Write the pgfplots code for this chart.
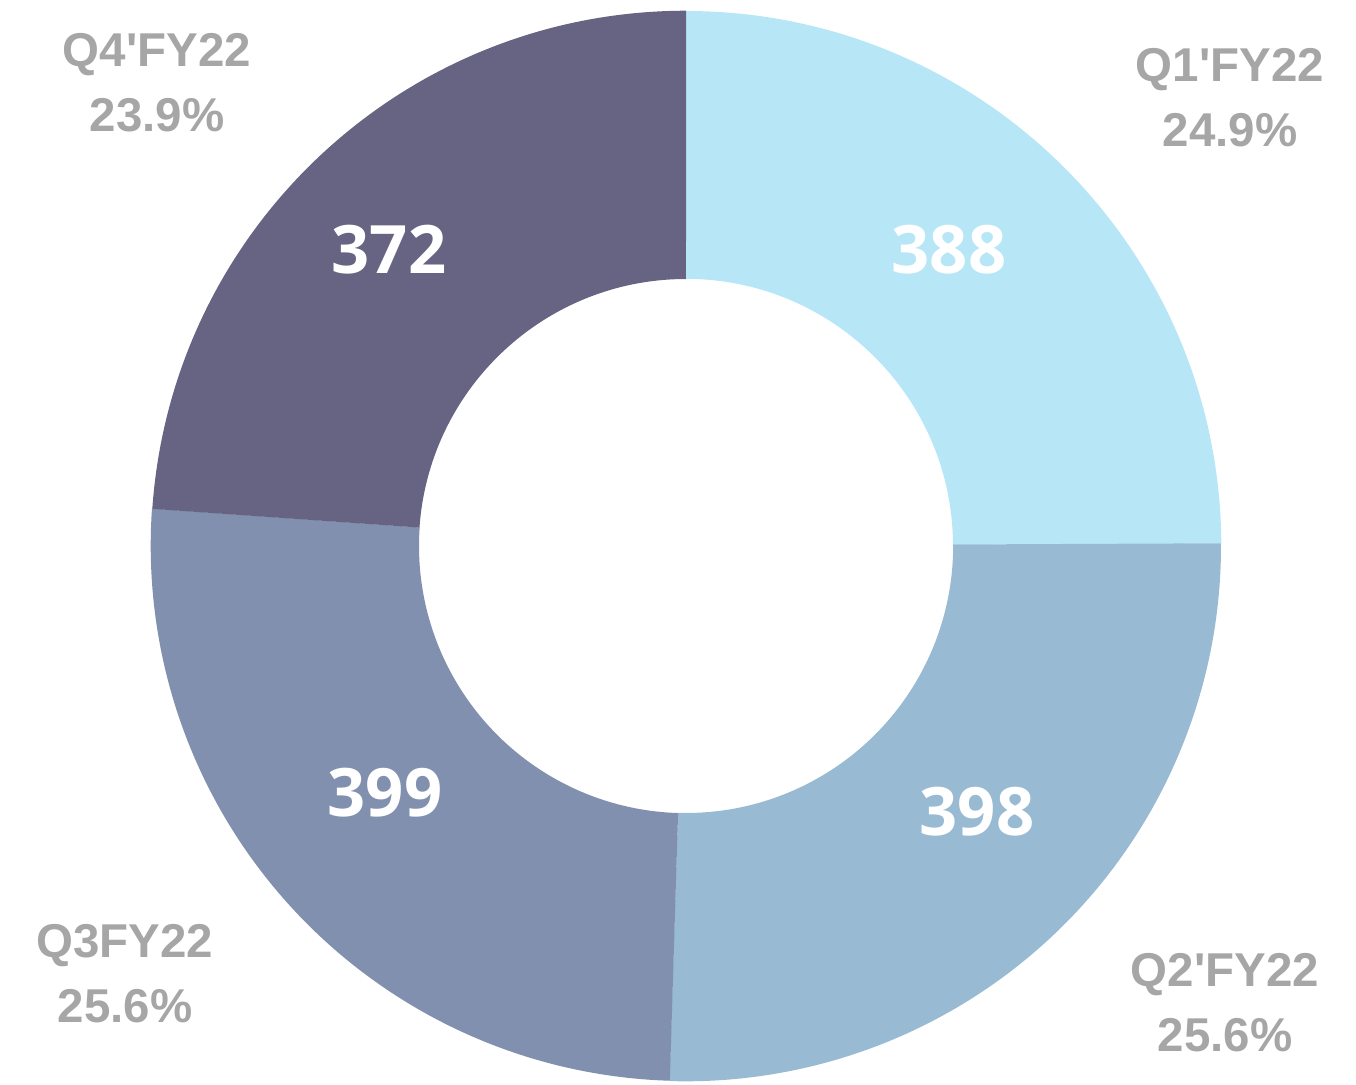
\documentclass[border=0pt]{standalone}
\usepackage{pgfplots}
\usepackage{pgfplotstable}
\pgfplotsset{compat=1.18}
\usepackage{fontspec}
\setmainfont{Liberation Sans}
\newfontfamily\valfont{Open Sans}
\definecolor{cA}{HTML}{B7E6F6}
\definecolor{cB}{HTML}{98BAD3}
\definecolor{cC}{HTML}{8090AE}
\definecolor{cD}{HTML}{666482}
\definecolor{lab}{HTML}{A6A6A6}
\pgfplotstableread{
label value
Q1 388
Q2 398
Q3 399
Q4 372
}\datatable
\pgfplotstablegetelem{0}{value}\of\datatable \let\va\pgfplotsretval
\pgfplotstablegetelem{1}{value}\of\datatable \let\vb\pgfplotsretval
\pgfplotstablegetelem{2}{value}\of\datatable \let\vc\pgfplotsretval
\pgfplotstablegetelem{3}{value}\of\datatable \let\vd\pgfplotsretval
\pgfmathsetmacro\tot{\va+\vb+\vc+\vd}
\pgfmathsetmacro\aA{90}
\pgfmathsetmacro\aB{\aA-360*(\va/\tot)}
\pgfmathsetmacro\aC{\aB-360*(\vb/\tot)}
\pgfmathsetmacro\aD{\aC-360*(\vc/\tot)}
\pgfmathsetmacro\aE{\aD-360*(\vd/\tot)}
\def\cx{686}\def\cy{535}
\newcommand\sector[3]{%
  \fill[#3] (axis cs:{\cx+535*cos(#1)},{\cy+535*sin(#1)})
    arc[start angle=#1, end angle=#2, radius=5.35cm]
    -- (axis cs:{\cx+267*cos(#2)},{\cy+267*sin(#2)})
    arc[start angle=#2, end angle=#1, radius=2.67cm] -- cycle;}
\newcommand\q{\textquotesingle}
\begin{document}
\begin{tikzpicture}
\begin{axis}[x=0.01cm, y=0.01cm, xmin=0, xmax=1356, ymin=0, ymax=1081,
  hide axis, clip=false]
\path (axis cs:0,0) rectangle (axis cs:1356,1081);
\sector{\aA}{\aB}{cA}
\sector{\aB}{\aC}{cB}
\sector{\aC}{\aD}{cC}
\sector{\aD}{\aE}{cD}
\begin{scope}[every node/.style={font=\valfont\bfseries\fontsize{19}{23}\selectfont, text=white}]
\node at (axis cs:949,831) {388};
\node at (axis cs:977,269) {398};
\node at (axis cs:385,288) {399};
\node at (axis cs:389,831) {372};
\end{scope}
\begin{scope}[every node/.style={font=\bfseries\fontsize{13.5}{18.5}\selectfont, text=lab, align=center}]
\node at (axis cs:1230,983) {Q1\q FY22\\24.9\%};
\node at (axis cs:1225,078) {Q2\q FY22\\25.6\%};
\node at (axis cs:125,107) {Q3FY22\\25.6\%};
\node at (axis cs:157,998) {Q4\q FY22\\23.9\%};
\end{scope}
\end{axis}
\end{tikzpicture}
\end{document}
